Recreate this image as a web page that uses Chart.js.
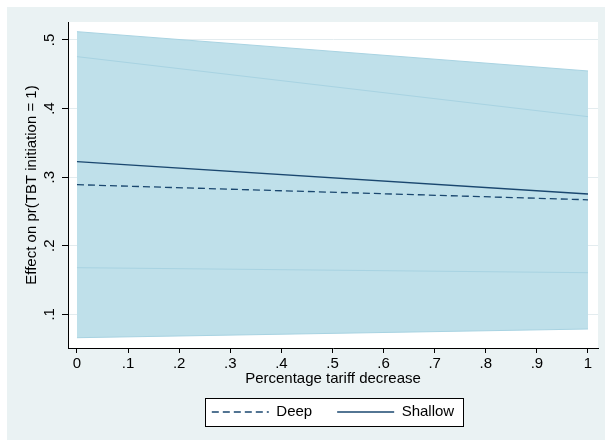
<!DOCTYPE html>
<html>
<head>
<meta charset="utf-8">
<script src="https://cdn.jsdelivr.net/npm/chart.js@4.4.1/dist/chart.umd.min.js"></script>
<style>
html,body{margin:0;padding:0;background:#ffffff;}
#wrap{position:relative;width:606px;height:440px;overflow:hidden;}
canvas{display:block;}
</style>
</head>
<body>
<div id="wrap"><canvas id="c" width="606" height="440"></canvas></div>
<script>
// ---- data ----
const xValues = [0, 1];
const deepEstimate = [0.2890, 0.2670];
const shallowEstimate = [0.3225, 0.2754];
const deepCiLower = [0.0659, 0.0786];
const deepCiUpper = [0.5121, 0.4548];
const shallowCiLower = [0.1680, 0.1607];
const shallowCiUpper = [0.4757, 0.3882];
const seriesNames = ['Deep', 'Shallow'];
const xTickValues = [0, 0.1, 0.2, 0.3, 0.4, 0.5, 0.6, 0.7, 0.8, 0.9, 1];
const xTickLabels = ['0', '.1', '.2', '.3', '.4', '.5', '.6', '.7', '.8', '.9', '1'];
const yTickValues = [0.1, 0.2, 0.3, 0.4, 0.5];
const yTickLabels = ['.1', '.2', '.3', '.4', '.5'];
const xTitle = 'Percentage tariff decrease';
const yTitle = 'Effect on pr(TBT initiation = 1)';

// ---- styling ----
const FONT = "'Liberation Sans', Arial, Helvetica, sans-serif";
const PANEL = '#eaf2f3';
const BAND_FILL = '#bfe0ea';
const BAND_EDGE = '#a8d3e2';
const LINE = '#1a476f';

Chart.defaults.font.family = FONT;
Chart.defaults.font.size = 15;
Chart.defaults.color = '#000';

function pts(ys) { return xValues.map((x, i) => ({ x: x, y: ys[i] })); }
function labelFor(vals, labs, v) {
  const i = vals.findIndex(t => Math.abs(t - v) < 1e-9);
  return i >= 0 ? labs[i] : '';
}

const stataPlugin = {
  id: 'stata',
  afterLayout(chart) {
    const lg = chart.legend, ca = chart.chartArea;
    if (!lg) return;
    const pad = lg.options.labels.padding;
    const fs = lg.options.labels.font.size || 15;
    lg.left = ca.left; lg.right = ca.right; lg.width = ca.right - ca.left;
    lg.top = ca.bottom + 64 - fs / 2 - pad;
    lg.bottom = chart.height;
    lg.height = lg.bottom - lg.top;
  },
  beforeDraw(chart) {
    const ctx = chart.ctx, ca = chart.chartArea;
    ctx.save();
    ctx.fillStyle = '#ffffff';
    ctx.fillRect(0, 0, chart.width, chart.height);
    ctx.fillStyle = PANEL;
    ctx.fillRect(7, 7, 598, 433);
    ctx.fillStyle = '#ffffff';
    ctx.fillRect(ca.left, ca.top, ca.right - ca.left, ca.bottom - ca.top);
    const lg = chart.legend;
    if (lg && lg.lineWidths) {
      const pad = lg.options.labels.padding;
      const fs = lg.options.labels.font.size || 15;
      const lw = lg.lineWidths[0];
      const x0 = (lg.left + pad + lg.right - lw) / 2;
      const x1 = x0 + lw - pad;
      const cy = lg.top + pad + fs / 2;
      const bx = Math.round(x0 - 7) + 0.5, by = Math.round(cy - 14) + 0.5;
      const bw = Math.round(x1 + 9 - (x0 - 7)), bh = 28;
      ctx.fillStyle = '#ffffff';
      ctx.fillRect(bx, by, bw, bh);
      ctx.strokeStyle = '#000';
      ctx.lineWidth = 1;
      ctx.strokeRect(bx, by, bw, bh);
    }
    ctx.restore();
  }
};

const bandBase = { borderColor: BAND_EDGE, borderWidth: 1, pointRadius: 0, pointHoverRadius: 0, tension: 0 };

new Chart(document.getElementById('c'), {
  type: 'line',
  data: {
    datasets: [
      Object.assign({ label: 'Deep CI lower', data: pts(deepCiLower), fill: false, order: 2 }, bandBase),
      Object.assign({ label: 'Deep CI upper', data: pts(deepCiUpper), fill: '-1', backgroundColor: BAND_FILL, order: 2 }, bandBase),
      Object.assign({ label: 'Shallow CI lower', data: pts(shallowCiLower), fill: false, order: 1 }, bandBase),
      Object.assign({ label: 'Shallow CI upper', data: pts(shallowCiUpper), fill: '-1', backgroundColor: BAND_FILL, order: 1 }, bandBase),
      { label: seriesNames[0], data: pts(deepEstimate), borderColor: LINE, backgroundColor: LINE, borderWidth: 1.3,
        borderDash: [7, 4], pointRadius: 0, pointHoverRadius: 0, pointStyle: 'line', fill: false, tension: 0, order: 0 },
      { label: seriesNames[1], data: pts(shallowEstimate), borderColor: LINE, backgroundColor: LINE, borderWidth: 1.3,
        pointRadius: 0, pointHoverRadius: 0, pointStyle: 'line', fill: false, tension: 0, order: 0 }
    ]
  },
  options: {
    responsive: false,
    animation: false,
    devicePixelRatio: 1,
    events: [],
    layout: { padding: { left: 20, top: 22, right: 8, bottom: 12 } },
    scales: {
      x: {
        type: 'linear',
        min: -0.0176, max: 1.0196,
        afterBuildTicks: s => { s.ticks = xTickValues.map(v => ({ value: v })); },
        afterFit: s => { s.height = 40; },
        ticks: {
          autoSkip: false, maxRotation: 0, minRotation: 0, padding: 2, color: '#000',
          font: { size: 15 },
          callback: v => labelFor(xTickValues, xTickLabels, v)
        },
        grid: { drawOnChartArea: false, drawTicks: true, tickLength: 5, tickColor: '#000', tickWidth: 1 },
        border: { display: true, color: '#000', width: 1 },
        title: { display: true, text: xTitle, color: '#000', font: { size: 15 }, padding: { top: 0, bottom: 0 } }
      },
      y: {
        type: 'linear',
        min: 0.0509, max: 0.5262,
        afterBuildTicks: s => { s.ticks = yTickValues.map(v => ({ value: v })); },
        afterFit: s => { s.width = 48; },
        ticks: {
          autoSkip: false, minRotation: 90, maxRotation: 90, crossAlign: 'center', padding: 6, color: '#000',
          font: { size: 15 },
          callback: v => labelFor(yTickValues, yTickLabels, v)
        },
        grid: { drawOnChartArea: true, color: '#e3ecef', lineWidth: 1, drawTicks: true, tickLength: 6, tickColor: '#000', tickWidth: 1 },
        border: { display: true, color: '#000', width: 1 },
        title: { display: true, text: yTitle, color: '#000', font: { size: 15 }, padding: { top: 3, bottom: 0 } }
      }
    },
    plugins: {
      tooltip: { enabled: false },
      legend: {
        display: true,
        position: 'bottom',
        maxHeight: 40,
        labels: {
          usePointStyle: true,
          pointStyleWidth: 57,
          padding: 25,
          color: '#000',
          font: { size: 15 },
          filter: item => item.datasetIndex >= 4,
          generateLabels: chart => {
            const items = Chart.defaults.plugins.legend.labels.generateLabels(chart);
            return items.map(it => {
              const ds = chart.data.datasets[it.datasetIndex];
              it.lineDash = ds.borderDash || [];
              it.lineWidth = ds.borderWidth;
              it.strokeStyle = ds.borderColor;
              it.pointStyle = 'line';
              return it;
            });
          }
        }
      }
    }
  },
  plugins: [stataPlugin]
});
</script>
</body>
</html>
